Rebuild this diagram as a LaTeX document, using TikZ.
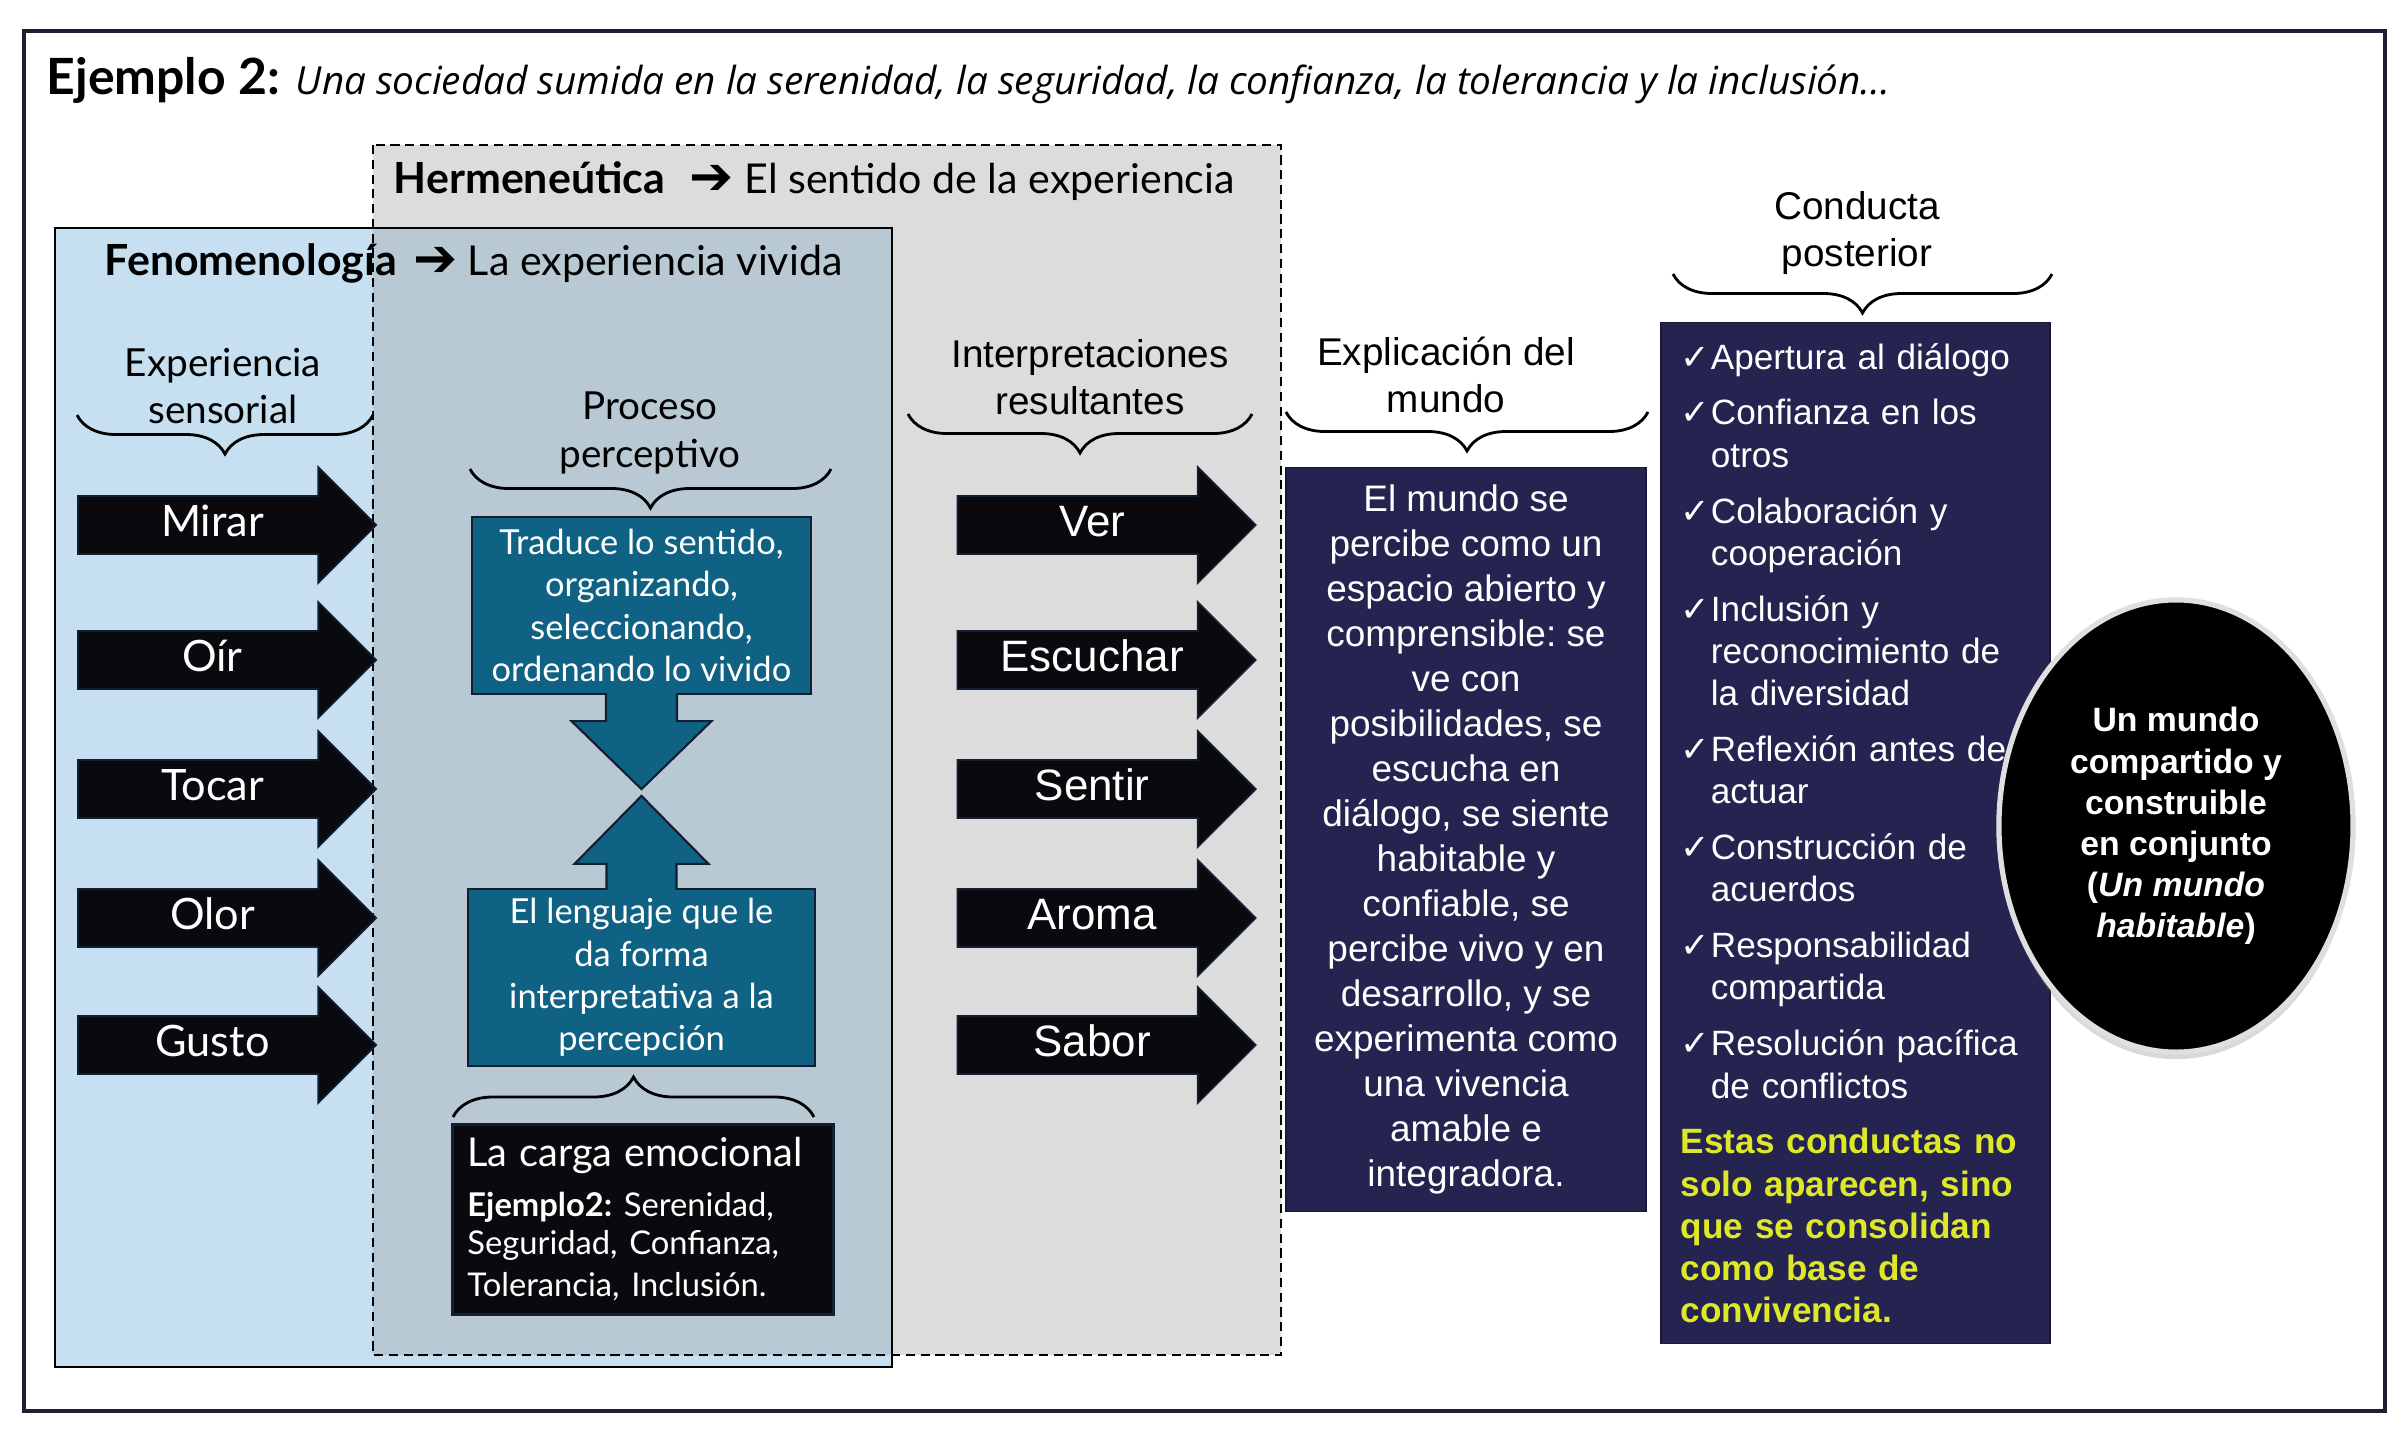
\documentclass[tikz,border=0pt]{standalone}
\usepackage{fontspec}
\setmainfont{Lato}
\newfontfamily\arialf{Liberation Sans}
\newfontfamily\symf{DejaVu Sans}
\newfontfamily\opensf{Open Sans}
\usetikzlibrary{positioning,calc,shapes.arrows,shapes.geometric,decorations.pathreplacing,shadows}
\definecolor{framenavy}{RGB}{28,32,52}
\definecolor{fenoblue}{RGB}{198,224,241}
\definecolor{hermgray}{RGB}{220,220,220}
\definecolor{overlapblue}{RGB}{184,201,211}
\definecolor{procteal}{RGB}{16,98,132}
\definecolor{mundonavy}{RGB}{37,35,80}
\definecolor{arrowblack}{RGB}{10,10,14}
\definecolor{lineedge}{RGB}{18,30,50}
\definecolor{notayellow}{RGB}{222,232,40}
\newcommand{\fsz}[2]{\fontsize{#1}{#2}\selectfont}
\newcommand{\chk}{\par\hangindent=0.30cm\hangafter=1\noindent\makebox[0.30cm][l]{\symf ✓}}
\newcommand{\bigarrow}{{\symf\fsz{15}{14}\raisebox{-0.3pt}{➔}}}
\frenchspacing

\begin{document}
\begin{tikzpicture}[x=0.01cm, y=-0.01cm,
  sensearrow/.style={single arrow, anchor=tail, fill=arrowblack, draw=lineedge, line width=0.5pt, minimum height=2.98cm, single arrow head extend=0.29cm, inner xsep=0pt, inner ysep=0pt, text height=0.395cm, text depth=0.165cm, text=white, font=\fsz{12.3}{14}},
  interarrow/.style={sensearrow, font=\arialf\fsz{12.5}{14}},
  heading/.style={align=center, inner sep=0pt, font=\fsz{11}{13.4}},
  headingarial/.style={heading, font=\arialf\fsz{11}{13.4}},
  bracedown/.style={decorate, decoration={brace, mirror, amplitude=0.39cm}, line width=0.8pt},
  braceup/.style={decorate, decoration={brace, amplitude=0.4cm}, line width=0.8pt},
  procbox/.style={rectangle, fill=procteal, draw=lineedge, line width=0.6pt, text=white, align=center, inner sep=0pt, font=\fsz{9.8}{12}},
  procarrow/.style={fill=procteal, draw=lineedge, line width=0.6pt},
  mundobox/.style={rectangle, fill=mundonavy, draw=mundonavy!70!black, line width=0.4pt, text=white, inner sep=0pt},
  sectitle/.style={anchor=west, inner sep=0pt, font=\fsz{11.7}{14}}
]
\useasboundingbox (0,0) rectangle (2400,1448);
\fill[white] (0,0) rectangle (2400,1448);
\draw[framenavy, line width=0.9pt] (24,31) rectangle (2385,1411);

% title
\node[anchor=west, inner sep=0pt] (titulo) at (46,81) {{\fsz{14.2}{16}\bfseries Ejemplo 2:}\hspace{0.45em}{\opensf\fsz{11}{13}\itshape Una sociedad sumida en la serenidad, la seguridad, la confianza, la tolerancia y la inclusión...}};

% fenomenologia / hermeneutica frames
\fill[fenoblue] (55,228) rectangle (892,1367);
\fill[hermgray] (373,145) rectangle (1281,1355);
\fill[overlapblue] (373,228) rectangle (892,1355);
\draw[line width=0.8pt] (55,228) rectangle (892,1367);
\draw[line width=0.6pt, dash pattern=on 2.6pt off 1.6pt] (373,145) rectangle (1281,1355);

\node[sectitle] (herm) at (393,181) {{\fsz{12.2}{14}\bfseries Hermeneútica}\hspace{0.6em}\bigarrow\hspace{0.25em}El sentido de la experiencia};
\node[sectitle] (feno) at (104,263) {{\fsz{12.2}{14}\bfseries Fenomenología}\hspace{0.4em}\bigarrow\hspace{0.25em}La experiencia vivida};

% column headings
\node[heading] (expsens) at (223,386) {Experiencia\\sensorial};
\node[heading] (procper) at (650,433) {Proceso\\perceptivo};
\node[headingarial] (interp) at (1090,377) {Interpretaciones\\resultantes};
\node[headingarial] (explic) at (1446,375) {Explicación del\\mundo};
\node[headingarial] (postc) at (1857,233) {Conducta\\posterior};

\draw[bracedown] (77,415) -- (373,415);
\draw[bracedown] (470,469) -- (831,469);
\draw[bracedown] (908,414) -- (1252,414);
\draw[bracedown] (1286,412) -- (1648,412);
\draw[bracedown] (1673,274) -- (2052,274);
\draw[braceup] (453,1117) -- (814,1117);

% senses
\node[sensearrow] (mirar) at (77,525) {Mirar};
\node[sensearrow] (oir) at (77,660) {Oír};
\node[sensearrow] (tocar) at (77,789) {Tocar};
\node[sensearrow] (olor) at (77,918) {Olor};
\node[sensearrow] (gusto) at (77,1045) {Gusto};

\node[interarrow, right=5.79cm of mirar] (ver) {Ver};
\node[interarrow, right=5.79cm of oir] (escuchar) {Escuchar};
\node[interarrow, right=5.79cm of tocar] (sentir) {Sentir};
\node[interarrow, right=5.79cm of olor] (aroma) {Aroma};
\node[interarrow, right=5.79cm of gusto] (sabor) {Sabor};

% perceptive process
\node[procbox, minimum width=3.39cm, minimum height=1.77cm] (traduce) at (641.5,605.5) {Traduce lo sentido,\\organizando,\\seleccionando,\\ordenando lo vivido};
\node[procbox, minimum width=3.47cm, minimum height=1.77cm] (lenguaje) at (641.5,977.5) {El lenguaje que le\\da forma\\interpretativa a la\\percepción};
\path[procarrow] ($(traduce.south)+(-35.5,-2)$) -- ($(traduce.south)+(-35.5,26)$) -- ($(traduce.south)+(-70,26)$) -- ($(traduce.south)+(0,94)$) -- ($(traduce.south)+(70,26)$) -- ($(traduce.south)+(35.5,26)$) -- ($(traduce.south)+(35.5,-2)$);
\path[procarrow] ($(lenguaje.north)+(-35,2)$) -- ($(lenguaje.north)+(-35,-24)$) -- ($(lenguaje.north)+(-67,-24)$) -- ($(lenguaje.north)+(0,-92)$) -- ($(lenguaje.north)+(67,-24)$) -- ($(lenguaje.north)+(35,-24)$) -- ($(lenguaje.north)+(35,2)$);

\node[rectangle, anchor=north west, fill=arrowblack, draw=lineedge, line width=0.8pt, text=white, align=left, inner xsep=0.15cm, inner ysep=0pt, text width=3.51cm, minimum height=1.9cm] (carga) at (451,1123) {{\fsz{11.3}{14}La carga emocional}\\[3pt]{\fsz{9.3}{11}\textbf{Ejemplo2:} Serenidad,\\Seguridad, Confianza,\\Tolerancia, Inclusión.}};

% world explanation
\node[mundobox, minimum width=3.60cm, minimum height=7.43cm, align=center, font=\arialf\fsz{10.5}{12.8}] (mundo) at (1466,839.5) {El mundo se\\percibe como un\\espacio abierto y\\comprensible: se\\ve con\\posibilidades, se\\escucha en\\diálogo, se siente\\habitable y\\confiable, se\\percibe vivo y en\\desarrollo, y se\\experimenta como\\una vivencia\\amable e\\integradora.};

% later conduct
\node[mundobox, text width=3.49cm, inner xsep=0.2cm, minimum height=10.2cm, align=left, font=\arialf\fsz{10}{12}] (conducta) at (1855.5,833) {\setlength{\parskip}{3.9pt}\vspace*{-3.9pt}%
\chk Apertura al diálogo
\chk Confianza en los\newline otros
\chk Colaboración y\newline cooperación
\chk Inclusión y\newline reconocimiento de\newline la diversidad
\chk Reflexión antes de\newline actuar
\chk Construcción de\newline acuerdos
\chk Responsabilidad\newline compartida
\chk Resolución pacífica\newline de conflictos
\par\noindent{\color{notayellow}\bfseries Estas conductas no\newline solo aparecen, sino\newline que se consolidan\newline como base de\newline convivencia.}\par\vspace*{0.16cm}};

\node[ellipse, fill=black, draw=gray!25, line width=1.5pt, minimum width=3.54cm, minimum height=4.52cm, inner sep=0pt, drop shadow={shadow xshift=0pt, shadow yshift=-2pt, opacity=0.3}, text=white, align=center, font=\arialf\bfseries\fsz{9.6}{11.7}] (habitable) at (2176,826) {Un mundo\\compartido y\\construible\\en conjunto\\(\textit{Un mundo}\\\textit{habitable})};
\end{tikzpicture}
\end{document}
